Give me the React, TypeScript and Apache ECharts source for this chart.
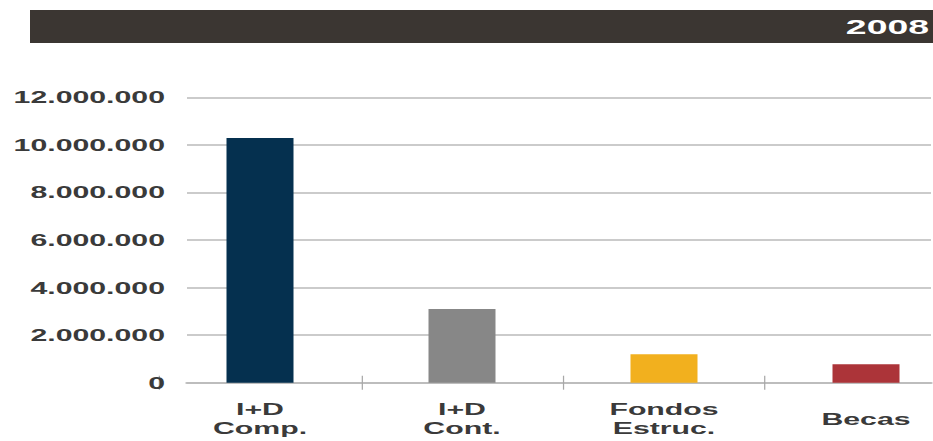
import React, { useEffect, useRef } from "react";
import * as echarts from "echarts";

const categories = ["I+D\nComp.", "I+D\nCont.", "Fondos\nEstruc.", "Becas"];
const values = [10300000, 3100000, 1200000, 780000];
const barColors = ["#05304f", "#878787", "#f2b01e", "#ac3439"];
const yMin = 0;
const yMax = 12000000;
const yStep = 2000000;
const yearLabel = "2008";

const PAGE_W = 933;
const PAGE_H = 441;
const STRETCH = 1.7805;
const VISIBLE_W = PAGE_W / STRETCH;
const CHART_W = 600;
const FONT = "'Liberation Sans', Arial, sans-serif";
const TEXT_COLOR = "#3a3a3a";

function formatThousands(v: number): string {
  return String(Math.round(v)).replace(/\B(?=(\d{3})+(?!\d))/g, ".");
}

export default function App() {
  const ref = useRef<HTMLDivElement>(null);

  useEffect(() => {
    if (!ref.current) return;
    const chart = echarts.init(ref.current, undefined, { renderer: "svg" });
    const top = 97.5;
    const bottom = PAGE_H - 382.7;
    const catW = 202 / STRETCH;
    const firstCenter = 260 / STRETCH;
    const barLeft = firstCenter - catW / 2;
    const barRight = CHART_W - (barLeft + catW * categories.length);
    chart.setOption({
      animation: false,
      backgroundColor: "#ffffff",
      graphic: [
        {
          type: "rect",
          shape: { x: 30 / STRETCH, y: 10, width: VISIBLE_W - 30 / STRETCH + 2, height: 33 },
          style: { fill: "#3b3632" },
          z: 10,
        },
        {
          type: "text",
          x: 929 / STRETCH,
          y: 26.5,
          style: {
            text: yearLabel,
            fill: "#ffffff",
            font: `bold 21px ${FONT}`,
            textAlign: "right",
            textVerticalAlign: "middle",
          },
          z: 11,
        },
      ],
      grid: [
        { left: 187 / STRETCH, right: CHART_W - 931 / STRETCH, top, bottom },
        { left: barLeft, right: barRight, top, bottom },
      ],
      xAxis: [
        {
          gridIndex: 0,
          type: "category",
          data: categories,
          axisLine: { show: true, lineStyle: { color: "#bdbdbd", width: 2 } },
          axisTick: { show: false },
          axisLabel: { show: false },
          splitLine: { show: false },
        },
        {
          gridIndex: 1,
          type: "category",
          data: categories,
          offset: -7,
          axisLine: { show: false },
          axisTick: { show: true, length: 14, lineStyle: { color: "#a8a8a8", width: 0.7 } },
          axisLabel: {
            margin: 43,
            verticalAlign: "middle",
            lineHeight: 19,
            fontSize: 17,
            fontWeight: "bold",
            fontFamily: FONT,
            color: TEXT_COLOR,
            interval: 0,
          },
          splitLine: { show: false },
        },
      ],
      yAxis: [
        {
          gridIndex: 0,
          type: "value",
          min: yMin,
          max: yMax,
          interval: yStep,
          axisLine: { show: false },
          axisTick: { show: false },
          axisLabel: {
            margin: 22 / STRETCH,
            fontSize: 17,
            fontWeight: "bold",
            fontFamily: FONT,
            color: TEXT_COLOR,
            formatter: (v: number) => formatThousands(v),
          },
          splitLine: { lineStyle: { color: "#cbcbcb", width: 2 } },
        },
        {
          gridIndex: 1,
          type: "value",
          min: yMin,
          max: yMax,
          interval: yStep,
          show: false,
          splitLine: { show: false },
        },
      ],
      series: [
        {
          type: "bar",
          xAxisIndex: 1,
          yAxisIndex: 1,
          barWidth: 67 / STRETCH,
          data: values.map((v, i) => ({ value: v, itemStyle: { color: barColors[i] } })),
        },
      ],
    });
    return () => chart.dispose();
  }, []);

  return (
    <div
      style={{
        position: "absolute",
        left: 0,
        top: 0,
        width: PAGE_W,
        height: PAGE_H,
        overflow: "hidden",
        background: "#ffffff",
      }}
    >
      <div
        ref={ref}
        style={{
          width: CHART_W,
          height: PAGE_H,
          transform: `scaleX(${STRETCH})`,
          transformOrigin: "0 0",
        }}
      />
    </div>
  );
}
